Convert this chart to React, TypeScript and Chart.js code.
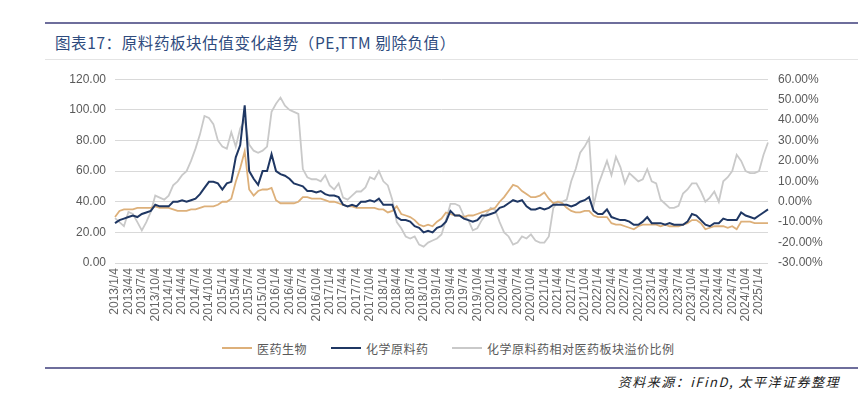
import React, { useEffect, useRef } from "react";
import { Chart, registerables } from "chart.js";

Chart.register(...registerables);

// Quarterly tick labels shown on the x axis
const quarterLabels = [
  "2013/1/4", "2013/4/4", "2013/7/4", "2013/10/4",
  "2014/1/4", "2014/4/4", "2014/7/4", "2014/10/4",
  "2015/1/4", "2015/4/4", "2015/7/4", "2015/10/4",
  "2016/1/4", "2016/4/4", "2016/7/4", "2016/10/4",
  "2017/1/4", "2017/4/4", "2017/7/4", "2017/10/4",
  "2018/1/4", "2018/4/4", "2018/7/4", "2018/10/4",
  "2019/1/4", "2019/4/4", "2019/7/4", "2019/10/4",
  "2020/1/4", "2020/4/4", "2020/7/4", "2020/10/4",
  "2021/1/4", "2021/4/4", "2021/7/4", "2021/10/4",
  "2022/1/4", "2022/4/4", "2022/7/4", "2022/10/4",
  "2023/1/4", "2023/4/4", "2023/7/4", "2023/10/4",
  "2024/1/4", "2024/4/4", "2024/7/4", "2024/10/4",
  "2025/1/4",
];

// Monthly categories 2013/1 .. 2025/3
const startYear = 2013;
const monthCount = 147;
const categories: string[] = [];
for (let i = 0; i < monthCount; i++) {
  const y = startYear + Math.floor(i / 12);
  const m = (i % 12) + 1;
  categories.push(`${y}/${m}/4`);
}

// 医药生物 PE (left axis)
const pharmaPE = [
  30, 34, 35, 35, 35, 36, 36, 36, 36, 37, 36, 36,
  36, 35, 34, 34, 34, 35, 35, 36, 37, 37, 37, 38,
  40, 40, 42, 53, 62, 73, 48, 44, 47, 48, 48, 49,
  41, 39, 39, 39, 39, 40, 43, 43, 42, 42, 42, 41,
  40, 40, 39, 38, 37, 37, 36, 36, 36, 36, 36, 35,
  35, 33, 34, 37, 32, 31, 30, 28, 25, 24, 25, 24,
  27, 29, 33, 32, 31, 31, 30, 31, 31, 32, 33, 34,
  35, 36, 40, 43, 47, 51, 50, 47, 45, 43, 43, 44,
  46, 42, 39, 40, 39, 36, 34, 33, 33, 34, 34, 31,
  30, 30, 30, 26, 25, 25, 24, 23, 22, 24, 25, 25,
  25, 25, 24, 25, 24, 24, 24, 25, 26, 28, 28, 26,
  22, 23, 24, 24, 24, 23, 24, 22, 27, 27, 27, 26,
  26, 26, 26,
];

// 化学原料药 PE (left axis)
const chemPE = [
  26, 28, 29, 30, 31, 30, 32, 33, 34, 38, 37, 37,
  37, 40, 40, 41, 40, 41, 42, 45, 49, 53, 53, 52,
  48, 52, 53, 69, 77, 103, 60, 55, 51, 60, 60, 71,
  60, 58, 57, 55, 52, 51, 50, 47, 47, 46, 47, 45,
  44, 44, 43, 38, 37, 38, 37, 40, 40, 41, 40, 42,
  38, 38, 38, 30, 28, 28, 27, 24, 23, 20, 21, 20,
  23, 24, 27, 34, 31, 31, 29, 28, 27, 28, 31, 31,
  32, 33, 36, 37, 39, 41, 40, 41, 37, 35, 35, 36,
  35, 36, 38, 38, 38, 38, 37, 38, 40, 41, 43, 34,
  32, 32, 35, 30, 29, 28, 28, 27, 25, 25, 27, 30,
  26, 26, 26, 25, 26, 25, 25, 25, 27, 32, 31, 28,
  25, 24, 26, 26, 29, 28, 28, 28, 33, 31, 30, 29,
  31, 33, 35,
];

// 化学原料药相对医药板块溢价比例 (%) (right axis)
const premiumPct = [
  -8, -10, -12, -5, -6, -10, -14, -10, -5, 3, 2, 1,
  3, 8, 10, 13, 15, 20, 26, 33, 42, 41, 38, 30,
  27, 26, 34, 27, 36, 40, 28, 25, 24, 25, 27, 44,
  48, 51, 47, 45, 44, 43, 16, 12, 11, 11, 10, 13,
  8, 6, 9, 2, 1, 3, 5, 5, 7, 12, 11, 15,
  10, 8, 1, -10, -13, -17, -18, -17, -21, -22, -20, -19,
  -18, -16, -9, -1, -1, -2, -7, -9, -14, -13, -9, -6,
  -3, -4, -10, -15, -17, -21, -20, -17, -18, -16, -19, -20,
  -20, -17, -3, 0, 0, 1, 10, 16, 24, 27, 31, -2,
  8, 14, 20, 13, 22, 17, 9, 14, 12, 10, 11, 16,
  10, 9, 1, -1, -3, -3, -2, 4, 6, 9, 9, 5,
  0, 2, 5, 0, 10, 12, 15, 23, 20, 15, 14, 14,
  15, 23, 29,
];

const seriesNames = ["医药生物", "化学原料药", "化学原料药相对医药板块溢价比例"];
const seriesColors = ["#DDB07A", "#1F3763", "#C9C9C9"];

const titleText = "图表17：原料药板块估值变化趋势（PE,TTM 剔除负值）";
const sourceText = "资料来源：iFinD, 太平洋证券整理";

const tickFont = { family: "'Liberation Sans', Arial, sans-serif", size: 12 };
const cjk = "'Noto Sans CJK SC', 'Noto Sans', sans-serif";

export default function App() {
  const canvasRef = useRef<HTMLCanvasElement | null>(null);

  useEffect(() => {
    document.body.style.margin = "0";
    const ctx = canvasRef.current;
    if (!ctx) return;
    const quarterSet = new Set(quarterLabels);
    const chart = new Chart(ctx, {
      type: "line",
      data: {
        labels: categories,
        datasets: [
          {
            label: seriesNames[1],
            data: chemPE,
            borderColor: seriesColors[1],
            borderWidth: 2,
            pointRadius: 0,
            yAxisID: "y",
            order: 1,
          },
          {
            label: seriesNames[0],
            data: pharmaPE,
            borderColor: seriesColors[0],
            borderWidth: 1.8,
            pointRadius: 0,
            yAxisID: "y",
            order: 2,
          },
          {
            label: seriesNames[2],
            data: premiumPct,
            borderColor: seriesColors[2],
            borderWidth: 1.8,
            pointRadius: 0,
            yAxisID: "y1",
            order: 3,
          },
        ],
      },
      options: {
        responsive: false,
        animation: false,
        devicePixelRatio: 1,
        layout: { padding: { top: 15, left: 0, right: 0, bottom: 0 } },
        plugins: { legend: { display: false }, tooltip: { enabled: false } },
        scales: {
          x: {
            type: "category",
            offset: false,
            grid: { display: false, drawTicks: false },
            border: { display: false },
            ticks: {
              autoSkip: false,
              minRotation: 90,
              maxRotation: 90,
              padding: 5,
              color: "#666666",
              font: tickFont,
              callback: function (_v: any, i: number) {
                const lab = categories[i];
                return quarterSet.has(lab) ? lab : "";
              },
            },
            afterFit: (s: any) => {
              s.height = 69;
            },
          },
          y: {
            position: "left",
            min: 0,
            max: 120,
            grid: { color: "#D9D9D9", lineWidth: 1, drawTicks: false },
            border: { display: false },
            ticks: {
              stepSize: 20,
              padding: 9,
              color: "#595959",
              font: tickFont,
              callback: (v: any) => Number(v).toFixed(2),
            },
            afterFit: (s: any) => {
              s.width = 65;
            },
          },
          y1: {
            position: "right",
            min: -30,
            max: 60,
            grid: { display: false, drawTicks: false },
            border: { display: false },
            ticks: {
              stepSize: 10,
              padding: 10,
              color: "#595959",
              font: tickFont,
              callback: (v: any) => Number(v).toFixed(2) + "%",
            },
            afterFit: (s: any) => {
              s.width = 82;
            },
          },
        },
      },
    } as any);
    return () => chart.destroy();
  }, []);

  const legendItems = [
    { name: seriesNames[0], color: seriesColors[0], left: 222 },
    { name: seriesNames[1], color: seriesColors[1], left: 331 },
    { name: seriesNames[2], color: seriesColors[2], left: 452 },
  ];

  return (
    <div style={{ position: "relative", width: 858, height: 393, background: "#fff", overflow: "hidden" }}>
      <div style={{ position: "absolute", left: 45, top: 22, width: 813, height: 2, background: "#6E6E9C" }} />
      <div
        style={{
          position: "absolute",
          left: 55,
          top: 31,
          fontFamily: cjk,
          fontSize: 15.5,
          color: "#2E4B7E",
          whiteSpace: "nowrap",
          letterSpacing: 0.6,
        }}
      >
        {titleText}
      </div>
      <div style={{ position: "absolute", left: 45, top: 59, width: 813, height: 1, background: "#E4E4E4" }} />
      <canvas
        ref={canvasRef}
        width={800}
        height={270}
        style={{ position: "absolute", left: 50, top: 62, width: 800, height: 270 }}
      />
      {legendItems.map((it) => (
        <div
          key={it.name}
          style={{ position: "absolute", left: it.left, top: 340, height: 16, display: "flex", alignItems: "center" }}
        >
          <div style={{ width: 30, height: 2, background: it.color, marginRight: 5 }} />
          <span style={{ fontFamily: cjk, fontSize: 12, color: "#595959", letterSpacing: 0.5, whiteSpace: "nowrap" }}>
            {it.name}
          </span>
        </div>
      ))}
      <div style={{ position: "absolute", left: 45, top: 367, width: 813, height: 2, background: "#6E6E9C" }} />
      <div
        style={{
          position: "absolute",
          right: 18,
          top: 372,
          fontFamily: cjk,
          fontSize: 13,
          fontStyle: "italic",
          color: "#222",
          whiteSpace: "nowrap",
          letterSpacing: 1.5,
        }}
      >
        {sourceText}
      </div>
    </div>
  );
}
